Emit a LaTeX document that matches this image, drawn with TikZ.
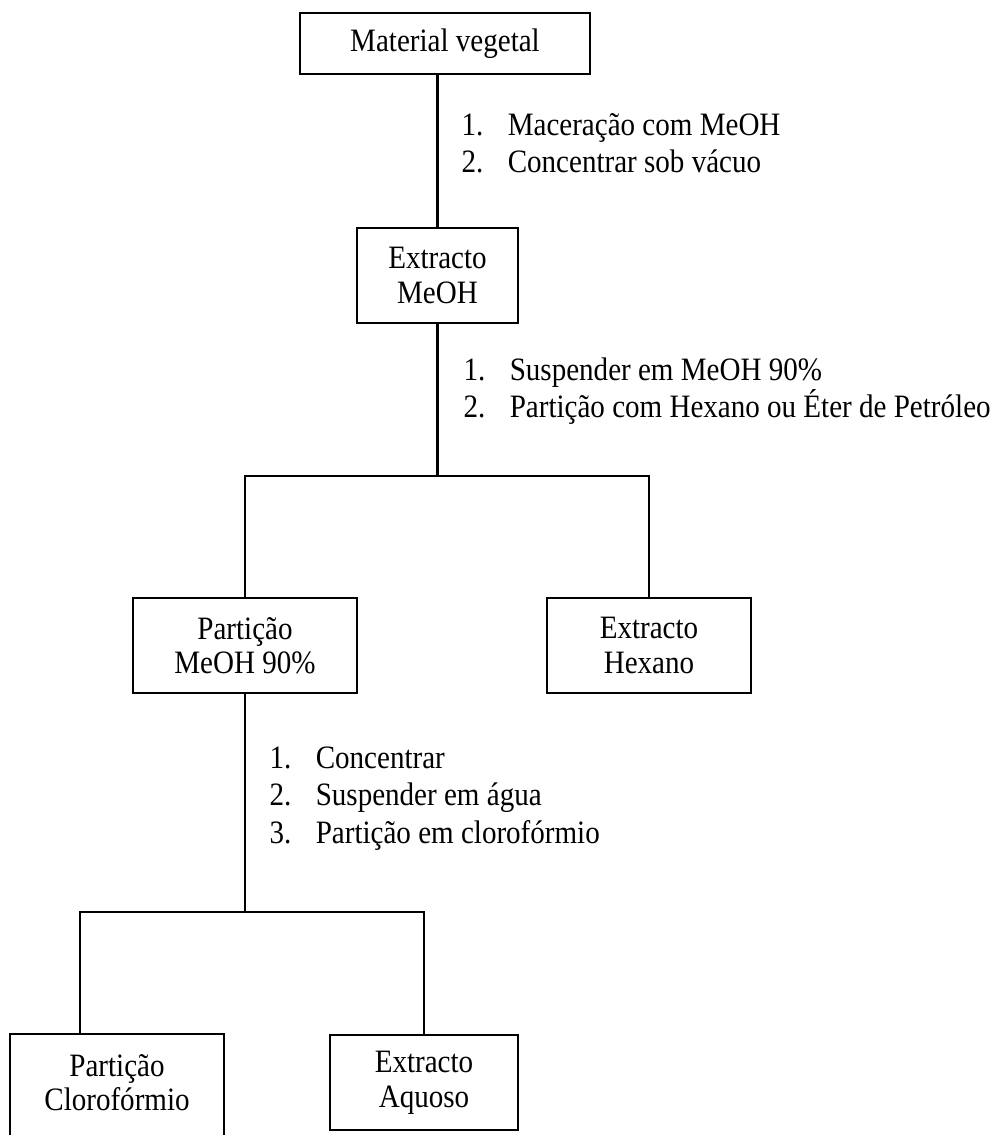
\documentclass[tikz,border=0pt]{standalone}
\usepackage{fontspec}
\setmainfont{Liberation Serif}[FakeStretch=0.89]
\usetikzlibrary{matrix}

\begin{document}
\begin{tikzpicture}[x=0.3676pt,y=-0.3676pt,
    every node/.style={font=\fontsize{12}{12.7}\selectfont},
    caixa/.style={draw, line width=.75pt, align=center, inner sep=0pt,
        minimum height=34.9pt},
    passos/.style={matrix of nodes, inner sep=0pt, anchor=north west,
        column sep=0pt, row sep=0pt,
        nodes={anchor=base west, inner sep=0pt, text height=9.5pt, text depth=4.3pt},
        column 1/.style={nodes={text width=17pt}}},
    liga/.style={line width=.75pt}]
    \useasboundingbox (0,0) rectangle (999,1135);

    \node[caixa, minimum width=106.6pt, minimum height=22.4pt] (mat) at (445,43.5) {Material vegetal};
    \node[caixa, minimum width=59.2pt] (ext) at (437.5,275.5) {Extracto\\MeOH};
    \node[caixa, minimum width=82.3pt] (partm) at (245,645.5) {Partição\\MeOH 90\%};
    \node[caixa, minimum width=75pt] (hex) at (649,645.5) {Extracto\\Hexano};
    \node[caixa, draw=none, minimum width=77.9pt] (partc) at (117,1082.5) {Partição\\Clorofórmio};
    \node[caixa, minimum width=69.1pt] (aq) at (424,1082.5) {Extracto\\Aquoso};

    \matrix (passos1) [passos] at (461,109)
    {
        1. & Maceração com MeOH \\
        2. & Concentrar sob vácuo \\
    };
    \matrix (passos2) [passos] at (463,354)
    {
        1. & Suspender em MeOH 90\% \\
        2. & Partição com Hexano ou Éter de Petróleo \\
    };
    \matrix (passos3) [passos] at (269,742)
    {
        1. & Concentrar \\
        2. & Suspender em água \\
        3. & Partição em clorofórmio \\
    };

    % caixa cortada em baixo
    \draw[liga] (partc.north west) rectangle ([yshift=-10pt]partc.south east);

    \draw[liga] (ext.north |- mat.south) -- (ext.north);

    \coordinate (j1) at (ext.south |- 0,476);
    \draw[liga] (ext.south) -- (j1);
    \draw[liga] (partm.north) |- (j1) -| (hex.north);

    \coordinate (j2) at (partm.south |- 0,912);
    \draw[liga] (partm.south) -- (j2);
    \draw[liga] (partc.north -| 80,0) |- (j2) -| (aq.north);

\end{tikzpicture}
\end{document}
